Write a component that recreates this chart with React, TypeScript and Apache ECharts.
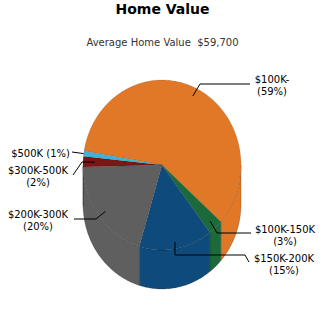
import React, { useEffect, useRef } from "react";
import * as echarts from "echarts";

const categories = ["$100K-", "$100K-150K", "$150K-200K", "$200K-300K", "$300K-500K", "$500K"];
const shares = [59, 3, 15, 20, 2, 1];
const sliceColors = ["#E07828", "#1C6A3A", "#0E4A7B", "#5F5F5F", "#7A1616", "#3CB4DA"];
const titleText = "Home Value";
const subtitleText = "Average Home Value  $59,700";

// pie geometry (layout)
const CX = 162;
const CY = 165;
const RX = 79;
const RY = 85;
const DEPTH = 39;
const START_ANGLE = 170.5; // degrees, math orientation, slices go clockwise

// label layout: text position, alignment, elbow points, anchor radius fraction
const labelLayout = [
  { tx: 272, ty: 85, align: "center", pts: [[200, 84], [250, 84]], f: 0.9, oneLine: false },
  { tx: 285, ty: 235, align: "center", pts: [[217, 233], [251, 233]], f: 0.9, oneLine: false },
  { tx: 284, ty: 264, align: "center", pts: [[175, 255], [245, 255], [249, 262]], f: 0.92, oneLine: false },
  { tx: 38, ty: 220, align: "center", pts: [[96, 219], [74, 219]], f: 0.9, oneLine: false },
  { tx: 38, ty: 176, align: "center", pts: [[82, 162], [73, 175]], f: 0.85, oneLine: false },
  { tx: 70, ty: 153, align: "right", pts: [[72, 152]], f: 1.0, oneLine: true },
];

const FONT = '"DejaVu Sans", Verdana, sans-serif';

function pt(deg: number, dy = 0, f = 1): number[] {
  const r = (deg * Math.PI) / 180;
  return [CX + RX * f * Math.cos(r), CY - RY * f * Math.sin(r) + dy];
}

function arc(a: number, b: number, dy = 0): number[][] {
  const n = Math.max(2, Math.ceil(Math.abs(b - a) / 1) + 1);
  const out: number[][] = [];
  for (let k = 0; k < n; k++) {
    out.push(pt(a + ((b - a) * k) / (n - 1), dy));
  }
  return out;
}

function renderItem(params: any, api: any) {
  const i = params.dataIndex;
  const total = shares.reduce((s, v) => s + v, 0);
  let start = START_ANGLE;
  for (let j = 0; j < i; j++) start -= (shares[j] / total) * 360;
  const value = api.value(0);
  const end = start - (value / total) * 360;
  const color = sliceColors[i];
  const children: any[] = [];

  // front walls
  for (let k = -2; k <= 1; k++) {
    const lo = Math.max(end, 180 + 360 * k);
    const hi = Math.min(start, 360 + 360 * k);
    if (hi > lo) {
      const top = arc(hi, lo, 0);
      const bottom = arc(lo, hi, DEPTH);
      children.push({
        type: "polygon",
        z2: 1,
        shape: { points: top.concat(bottom) },
        style: { fill: color, stroke: "rgba(0,0,0,0.3)", lineWidth: 0.6 },
      });
    }
  }

  // top face
  const topPts = [[CX, CY]].concat(arc(start, end, 0));
  children.push({
    type: "polygon",
    z2: 2,
    shape: { points: topPts },
    style: { fill: color, stroke: "rgba(0,0,0,0.15)", lineWidth: 0.6 },
  });

  // label
  const lay = labelLayout[i];
  const mid = (start + end) / 2;
  const anchor = pt(mid, 0, lay.f);
  children.push({
    type: "polyline",
    z2: 3,
    shape: { points: [anchor].concat(lay.pts) },
    style: { stroke: "#000", fill: null, lineWidth: 1 },
  });
  const pct = `(${value}%)`;
  const text = lay.oneLine ? `${categories[i]} ${pct}` : `${categories[i]}\n${pct}`;
  children.push({
    type: "text",
    z2: 4,
    style: {
      text,
      x: lay.tx,
      y: lay.ty,
      fill: "#000",
      font: `10px ${FONT}`,
      align: lay.align,
      verticalAlign: "middle",
      lineHeight: 12,
    },
  });

  return { type: "group", children };
}

export default function App() {
  const ref = useRef<HTMLDivElement>(null);
  useEffect(() => {
    if (!ref.current) return;
    const chart = echarts.init(ref.current, null, { renderer: "svg" });
    chart.setOption({
      animation: false,
      backgroundColor: "#ffffff",
      graphic: [
        {
          type: "text",
          style: {
            text: titleText,
            x: 162.5,
            y: 9,
            align: "center",
            verticalAlign: "middle",
            font: `bold 14px ${FONT}`,
            fill: "#000",
          },
        },
        {
          type: "text",
          style: {
            text: subtitleText,
            x: 162.5,
            y: 42,
            align: "center",
            verticalAlign: "middle",
            font: `10px ${FONT}`,
            fill: "#333",
          },
        },
      ],
      series: [
        {
          type: "custom",
          coordinateSystem: "none",
          renderItem,
          data: shares.map((v, i) => ({ value: [v], name: categories[i] })),
        },
      ],
    });
    return () => chart.dispose();
  }, []);
  return (
    <div
      ref={ref}
      style={{ position: "fixed", left: 0, top: 0, width: 325, height: 325 }}
    />
  );
}
